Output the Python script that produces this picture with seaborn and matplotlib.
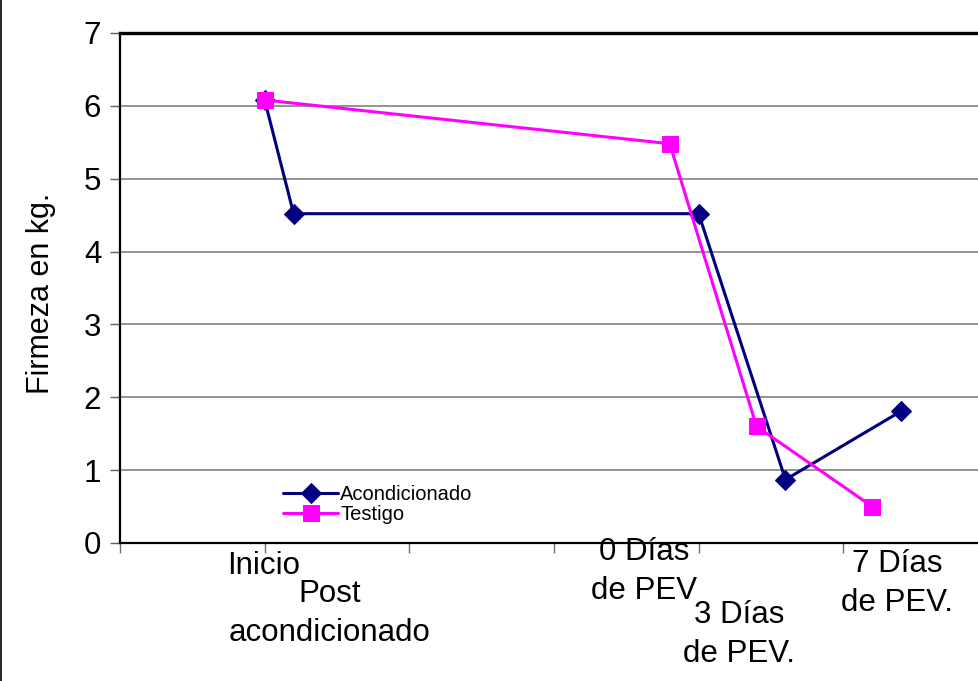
import matplotlib
matplotlib.use("Agg")
import matplotlib.pyplot as plt
from matplotlib.lines import Line2D
import seaborn as sns
import pandas as pd

# Firmness measurements (kg) at each sampling moment
acond_x = [1.0, 1.2, 4.0, 4.6, 5.4]
acond_y = [6.08, 4.52, 4.52, 0.87, 1.81]
testigo_x = [1.0, 3.8, 4.4, 5.2]
testigo_y = [6.08, 5.48, 1.60, 0.50]

series_names = ["Acondicionado", "Testigo"]
stage_labels = ["Inicio", "Post\nacondicionado", "0 Días\nde PEV",
                "3 Días\nde PEV.", "7 Días\nde PEV."]
y_ticks = [0, 1, 2, 3, 4, 5, 6, 7]

sns.set_theme(style="white")
plt.rcParams["font.family"] = ["Liberation Sans", "DejaVu Sans"]

W, H = 979, 681
fig = plt.figure(figsize=(W / 100, H / 100), dpi=100)
# plot area runs past the right border of the canvas
ax = fig.add_axes([120 / W, (H - 543) / H, (988 - 120) / W, (543 - 33) / H])

df_a = pd.DataFrame({"x": acond_x, "y": acond_y})
df_t = pd.DataFrame({"x": testigo_x, "y": testigo_y})

sns.lineplot(data=df_a, x="x", y="y", ax=ax, sort=False, estimator=None,
             color="#000080", lw=2.2, marker="D", markersize=10,
             markeredgecolor="#000080", label=series_names[0], zorder=3)
sns.lineplot(data=df_t, x="x", y="y", ax=ax, sort=False, estimator=None,
             color="#FF00FF", lw=2.2, marker="s", markersize=11,
             markeredgecolor="#FF00FF", label=series_names[1], zorder=4)

ax.set_xlim(0, 6)
ax.set_ylim(0, 7)
ax.set_yticks(y_ticks)
ax.set_yticklabels([str(v) for v in y_ticks])
ax.set_xticks(range(0, 7))
ax.set_xticklabels([])
ax.set_xlabel("")
ax.set_ylabel("Firmeza en kg.", fontsize=22, color="black")
ax.yaxis.set_label_coords(-64 / 868, 0.49)

ax.grid(axis="y", color="#808080", lw=1.2)
ax.grid(axis="x", visible=False)
ax.set_axisbelow(True)

ax.tick_params(axis="y", left=True, direction="out", length=7.5, width=1,
               color="#606060", labelsize=22.5, labelcolor="black", pad=6)
ax.tick_params(axis="x", bottom=True, direction="out", length=7.5, width=1,
               color="#707070")

for side in ["left", "bottom"]:
    ax.spines[side].set_color("black")
    ax.spines[side].set_linewidth(1.6)
ax.spines["top"].set_color("black")
ax.spines["top"].set_linewidth(2.4)
ax.spines["right"].set_visible(False)

# stage names written under the axis
label_pos = [(0.99, -0.045), (1.45, -0.138), (3.62, -0.056),
             (4.28, -0.180), (5.37, -0.080)]
for txt, (lx, ly) in zip(stage_labels, label_pos):
    ax.text(lx, ly, txt, transform=ax.get_xaxis_transform(), ha="center",
            va="center", fontsize=22.5, linespacing=1.4, color="black",
            clip_on=False)

ax.legend(loc="upper left", bbox_to_anchor=(163 / 868, (543 - 485) / 510),
          frameon=False, fontsize=14.5, handlelength=2.75, handletextpad=0.1,
          labelspacing=0.05, borderpad=0, borderaxespad=0, labelcolor="black")

fig.add_artist(Line2D([1 / W, 1 / W], [0, 1], transform=fig.transFigure,
                      color="black", lw=1.2))

fig.savefig("out.png", dpi=100, facecolor="white")
